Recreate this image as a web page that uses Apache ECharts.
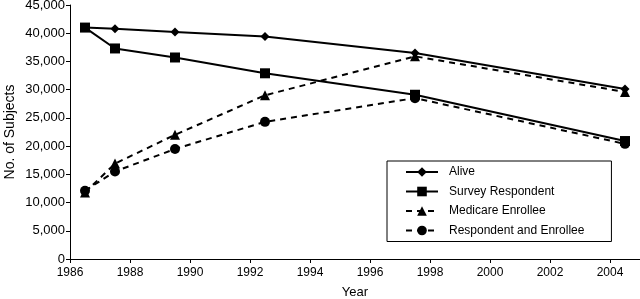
<!DOCTYPE html>
<html>
<head>
<meta charset="utf-8">
<script src="https://cdn.jsdelivr.net/npm/echarts@6/dist/echarts.min.js"></script>
<style>
  html, body { margin: 0; padding: 0; background: #fff; }
  #chart { width: 640px; height: 299px; }
</style>
</head>
<body>
<div id="chart"></div>
<script>
// survey years (plotted mid-year)
const years = [1986.5, 1987.5, 1989.5, 1992.5, 1997.5, 2004.5]
const alive = [41000, 40800, 40200, 39400, 36500, 30100]
const surveyRespondent = [41000, 37300, 35700, 32900, 29100, 20900]
const medicareEnrollee = [11800, 16900, 22000, 29000, 35900, 29600]
const respondentAndEnrollee = [12100, 15500, 19500, 24300, 28500, 20400]

const font = 'Liberation Sans, Arial, sans-serif'

function pairs (vals) {
  return years.map((y, i) => [y, vals[i]])
}

function makeSeries (name, vals, symbol, size, dashed) {
  return {
    name: name,
    type: 'line',
    data: pairs(vals),
    symbol: symbol,
    symbolSize: size,
    showSymbol: true,
    itemStyle: { color: '#000' },
    lineStyle: {
      color: '#000',
      width: 2,
      type: dashed ? [6, 5] : 'solid'
    },
    emphasis: { disabled: true },
    animation: false
  }
}

const chart = echarts.init(document.getElementById('chart'))
chart.setOption({
  backgroundColor: '#fff',
  textStyle: { fontFamily: font },
  grid: {
    left: 70,
    right: 0,
    top: 5,
    bottom: 40,
    outerBoundsMode: 'none'
  },
  legend: {
    orient: 'vertical',
    left: 387,
    top: 161,
    padding: [5, 27, 5, 18],
    itemGap: 7.5,
    itemWidth: 32,
    itemHeight: 12,
    borderColor: '#000',
    borderWidth: 1,
    backgroundColor: '#fff',
    textStyle: { fontFamily: font, fontSize: 12, color: '#000', padding: [0, 0, 0, 6] },
    data: ['Alive', 'Survey Respondent', 'Medicare Enrollee', 'Respondent and Enrollee']
  },
  xAxis: {
    type: 'value',
    min: 1986,
    max: 2005,
    interval: 2,
    name: 'Year',
    nameLocation: 'middle',
    nameGap: 27,
    nameMoveOverlap: false,
    nameTextStyle: { fontFamily: font, fontSize: 13, color: '#000' },
    axisLine: { lineStyle: { color: '#000', width: 1 } },
    axisTick: { show: true, length: 4, lineStyle: { color: '#000' } },
    axisLabel: { fontFamily: font, fontSize: 12, color: '#000', margin: 8, showMaxLabel: false, formatter: v => String(v) },
    splitLine: { show: false }
  },
  yAxis: {
    type: 'value',
    min: 0,
    max: 45000,
    interval: 5000,
    name: 'No. of Subjects',
    nameLocation: 'middle',
    nameGap: 53,
    nameMoveOverlap: false,
    nameTextStyle: { fontFamily: font, fontSize: 14, color: '#000' },
    axisLine: { show: true, lineStyle: { color: '#000', width: 1 } },
    axisTick: { show: true, length: 4, lineStyle: { color: '#000' } },
    axisLabel: {
      fontFamily: font,
      fontSize: 13,
      color: '#000',
      margin: 5,
      formatter: v => v.toLocaleString('en-US')
    },
    splitLine: { show: false }
  },
  series: [
    makeSeries('Alive', alive, 'diamond', 9, false),
    makeSeries('Survey Respondent', surveyRespondent, 'rect', 10, false),
    makeSeries('Medicare Enrollee', medicareEnrollee, 'triangle', 10, true),
    makeSeries('Respondent and Enrollee', respondentAndEnrollee, 'circle', 10, true)
  ]
})
</script>
</body>
</html>
